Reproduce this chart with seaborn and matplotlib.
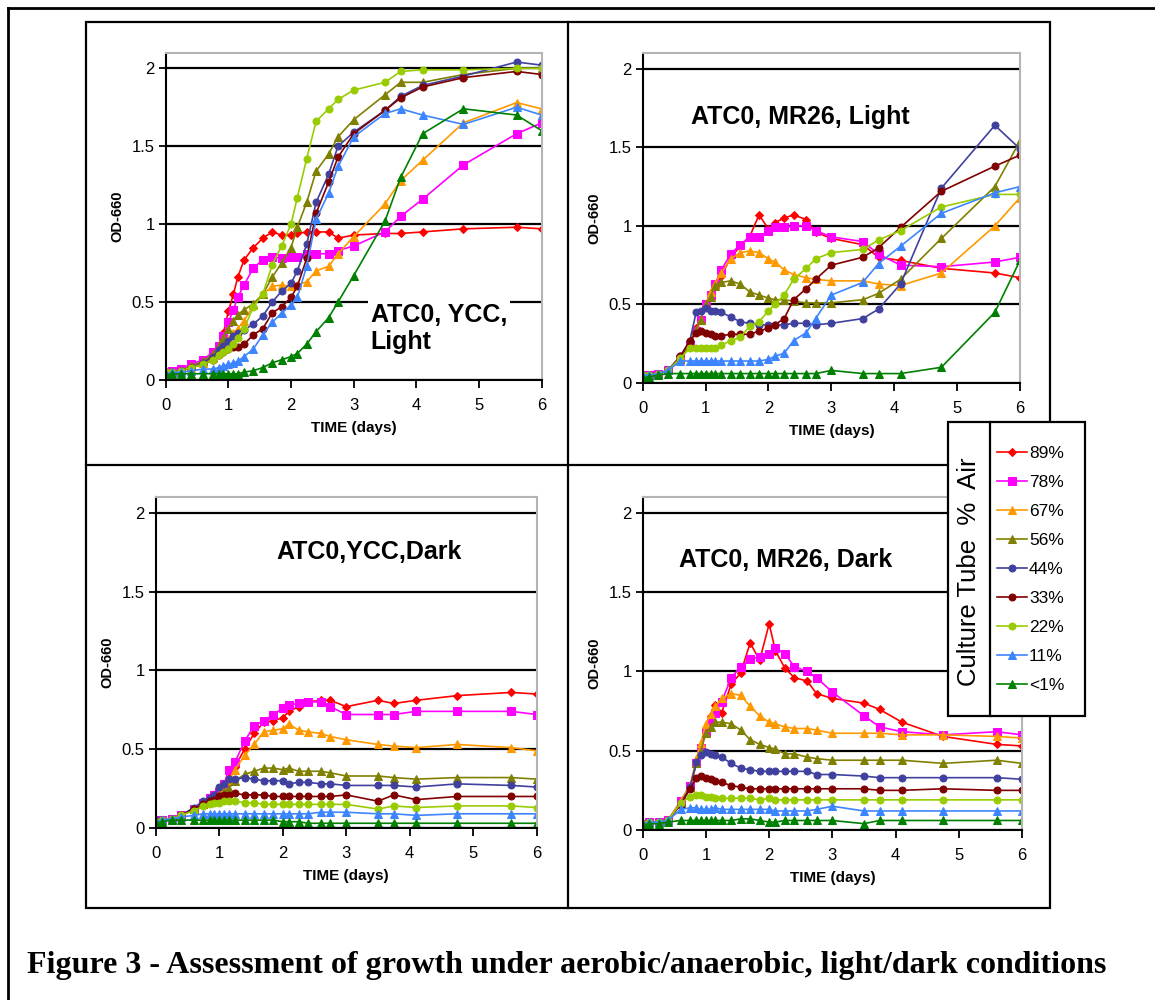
import matplotlib
matplotlib.use("Agg")
import matplotlib.pyplot as plt
import seaborn as sns
from matplotlib.lines import Line2D
from matplotlib.patches import Rectangle

# sampling times (days), shared by all panels
T = [0, 0.1, 0.25, 0.4, 0.6, 0.75, 0.85, 0.92, 1.0, 1.08, 1.15, 1.25, 1.4, 1.55,
     1.7, 1.85, 2.0, 2.1, 2.25, 2.4, 2.6, 2.75, 3.0, 3.5, 3.75, 4.1, 4.75, 5.6, 6.0]

labels = ['89%', '78%', '67%', '56%', '44%', '33%', '22%', '11%', '<1%']
colors = ['#FF0000', '#FF00FF', '#FF9900', '#808000', '#40409F',
          '#800000', '#99CC00', '#3D85FF', '#008000']
markers = ['D', 's', '^', '^', 'o', 'o', 'o', '^', '^']
msizes = [4.5, 5.5, 6, 6, 5, 5, 5, 6, 6]

# ATC0, YCC, Light
yl_89 = [0.05,0.05,0.06,0.08,0.11,0.16,0.22,0.30,0.44,0.55,0.66,0.77,0.85,0.91,0.95,0.93,0.93,0.94,0.95,0.95,0.95,0.91,0.93,0.94,0.94,0.95,0.97,0.98,0.97]
yl_78 = [0.05,0.06,0.07,0.10,0.13,0.18,0.22,0.28,0.37,0.45,0.53,0.61,0.72,0.77,0.79,0.78,0.79,0.79,0.81,0.81,0.81,0.83,0.86,0.95,1.05,1.16,1.38,1.58,1.65]
yl_67 = [0.04,0.05,0.06,0.08,0.11,0.14,0.18,0.22,0.26,0.30,0.33,0.38,0.48,0.55,0.60,0.61,0.60,0.61,0.63,0.70,0.73,0.81,0.92,1.13,1.28,1.41,1.65,1.78,1.74]
yl_56 = [0.05,0.05,0.06,0.09,0.12,0.17,0.22,0.27,0.33,0.38,0.42,0.45,0.49,0.55,0.66,0.75,0.85,0.98,1.14,1.34,1.45,1.56,1.67,1.83,1.91,1.91,1.96,2.0,2.0]
yl_44 = [0.04,0.05,0.06,0.08,0.11,0.15,0.19,0.22,0.25,0.28,0.30,0.32,0.36,0.41,0.50,0.57,0.62,0.70,0.87,1.14,1.32,1.50,1.59,1.73,1.82,1.89,1.95,2.04,2.02]
yl_33 = [0.04,0.05,0.06,0.08,0.10,0.13,0.16,0.18,0.20,0.21,0.21,0.23,0.29,0.33,0.43,0.47,0.53,0.60,0.78,1.07,1.27,1.43,1.58,1.73,1.81,1.88,1.94,1.98,1.96]
yl_22 = [0.05,0.05,0.06,0.08,0.10,0.13,0.16,0.18,0.20,0.23,0.27,0.33,0.47,0.55,0.74,0.86,1.0,1.17,1.42,1.66,1.74,1.80,1.86,1.91,1.98,1.99,1.99,2.0,2.0]
yl_11 = [0.04,0.05,0.05,0.06,0.07,0.07,0.08,0.09,0.10,0.11,0.12,0.15,0.20,0.29,0.37,0.43,0.48,0.53,0.73,1.03,1.20,1.37,1.56,1.71,1.74,1.70,1.64,1.75,1.70]
yl_1 = [0.03,0.04,0.04,0.04,0.04,0.04,0.04,0.04,0.04,0.04,0.04,0.05,0.06,0.08,0.11,0.13,0.15,0.17,0.23,0.31,0.40,0.50,0.67,1.02,1.30,1.58,1.74,1.70,1.60]

# ATC0, MR26, Light
ml_89 = [0.05,0.05,0.06,0.08,0.15,0.25,0.35,0.40,0.50,0.57,0.62,0.68,0.80,0.87,0.93,1.07,0.98,1.02,1.05,1.07,1.04,0.96,0.92,0.88,0.80,0.78,0.73,0.70,0.67]
ml_78 = [0.05,0.05,0.06,0.08,0.15,0.24,0.33,0.40,0.50,0.56,0.63,0.72,0.82,0.88,0.93,0.93,0.97,0.99,0.99,1.0,1.0,0.97,0.93,0.90,0.82,0.75,0.74,0.77,0.80]
ml_67 = [0.05,0.05,0.06,0.08,0.15,0.24,0.33,0.40,0.50,0.58,0.63,0.70,0.79,0.83,0.84,0.83,0.79,0.77,0.72,0.69,0.67,0.66,0.65,0.65,0.63,0.62,0.70,1.0,1.18]
ml_56 = [0.05,0.05,0.06,0.08,0.15,0.25,0.34,0.40,0.50,0.55,0.62,0.64,0.65,0.63,0.58,0.56,0.54,0.53,0.53,0.52,0.51,0.51,0.51,0.53,0.57,0.66,0.92,1.25,1.54]
ml_44 = [0.05,0.05,0.06,0.08,0.17,0.27,0.45,0.46,0.48,0.46,0.46,0.45,0.42,0.39,0.38,0.37,0.37,0.37,0.37,0.38,0.38,0.37,0.38,0.41,0.47,0.63,1.24,1.64,1.49]
ml_33 = [0.05,0.05,0.06,0.08,0.17,0.27,0.32,0.33,0.32,0.31,0.30,0.30,0.31,0.31,0.31,0.33,0.35,0.37,0.41,0.53,0.60,0.66,0.75,0.80,0.86,0.99,1.22,1.38,1.45]
ml_22 = [0.05,0.05,0.06,0.08,0.16,0.22,0.22,0.22,0.22,0.22,0.22,0.24,0.27,0.29,0.36,0.39,0.46,0.50,0.56,0.66,0.73,0.79,0.83,0.85,0.91,0.97,1.12,1.20,1.20]
ml_11 = [0.05,0.05,0.06,0.08,0.14,0.14,0.14,0.14,0.14,0.14,0.14,0.14,0.14,0.14,0.14,0.14,0.15,0.17,0.19,0.27,0.32,0.41,0.56,0.64,0.76,0.87,1.08,1.21,1.25]
ml_1 = [0.03,0.04,0.05,0.06,0.06,0.06,0.06,0.06,0.06,0.06,0.06,0.06,0.06,0.06,0.06,0.06,0.06,0.06,0.06,0.06,0.06,0.06,0.08,0.06,0.06,0.06,0.10,0.45,0.78]

# ATC0, YCC, Dark
yd_89 = [0.05,0.05,0.06,0.08,0.12,0.16,0.19,0.21,0.23,0.27,0.32,0.39,0.50,0.60,0.67,0.68,0.70,0.74,0.77,0.80,0.81,0.81,0.77,0.81,0.79,0.81,0.84,0.86,0.85]
yd_78 = [0.05,0.05,0.06,0.08,0.12,0.16,0.19,0.21,0.23,0.28,0.37,0.42,0.55,0.65,0.68,0.72,0.76,0.78,0.79,0.80,0.80,0.77,0.72,0.72,0.72,0.74,0.74,0.74,0.72]
yd_67 = [0.04,0.05,0.06,0.08,0.12,0.15,0.18,0.20,0.21,0.25,0.30,0.37,0.46,0.53,0.61,0.62,0.63,0.66,0.62,0.61,0.60,0.58,0.56,0.53,0.52,0.51,0.53,0.51,0.49]
yd_56 = [0.05,0.05,0.06,0.08,0.12,0.15,0.18,0.20,0.21,0.23,0.25,0.30,0.34,0.36,0.38,0.38,0.37,0.38,0.36,0.36,0.36,0.35,0.33,0.33,0.32,0.31,0.32,0.32,0.31]
yd_44 = [0.05,0.05,0.06,0.08,0.13,0.17,0.19,0.21,0.26,0.28,0.31,0.31,0.32,0.31,0.30,0.30,0.30,0.28,0.29,0.29,0.28,0.28,0.27,0.27,0.27,0.26,0.28,0.27,0.26]
yd_33 = [0.04,0.05,0.06,0.08,0.12,0.15,0.17,0.18,0.20,0.21,0.21,0.22,0.21,0.21,0.21,0.20,0.20,0.20,0.20,0.20,0.20,0.20,0.21,0.17,0.21,0.18,0.20,0.20,0.20]
yd_22 = [0.04,0.05,0.06,0.08,0.11,0.14,0.15,0.16,0.16,0.17,0.17,0.17,0.16,0.16,0.15,0.15,0.15,0.15,0.15,0.15,0.15,0.15,0.15,0.12,0.14,0.13,0.14,0.14,0.13]
yd_11 = [0.04,0.05,0.06,0.07,0.08,0.09,0.09,0.09,0.09,0.09,0.09,0.09,0.09,0.09,0.09,0.09,0.09,0.09,0.09,0.09,0.10,0.10,0.10,0.09,0.09,0.08,0.09,0.09,0.09]
yd_1 = [0.03,0.04,0.05,0.05,0.05,0.05,0.05,0.05,0.05,0.05,0.05,0.05,0.05,0.05,0.05,0.05,0.04,0.04,0.04,0.03,0.03,0.03,0.03,0.03,0.03,0.03,0.03,0.03,0.03]

# ATC0, MR26, Dark
md_89 = [0.04,0.05,0.05,0.06,0.18,0.28,0.42,0.52,0.62,0.72,0.79,0.74,0.92,0.99,1.18,1.07,1.30,1.13,1.02,0.96,0.94,0.86,0.83,0.80,0.76,0.68,0.59,0.54,0.53]
md_78 = [0.04,0.05,0.05,0.06,0.18,0.28,0.42,0.52,0.62,0.68,0.74,0.81,0.96,1.03,1.08,1.09,1.11,1.15,1.11,1.03,1.00,0.96,0.87,0.72,0.65,0.62,0.60,0.62,0.60]
md_67 = [0.04,0.05,0.05,0.06,0.18,0.28,0.45,0.55,0.67,0.73,0.78,0.83,0.86,0.85,0.78,0.72,0.68,0.67,0.65,0.64,0.64,0.63,0.61,0.61,0.61,0.60,0.60,0.59,0.58]
md_56 = [0.04,0.05,0.05,0.06,0.17,0.27,0.42,0.50,0.61,0.65,0.68,0.68,0.67,0.63,0.57,0.54,0.52,0.51,0.48,0.48,0.46,0.45,0.44,0.44,0.44,0.44,0.42,0.44,0.42]
md_44 = [0.04,0.05,0.05,0.06,0.16,0.27,0.43,0.47,0.49,0.48,0.47,0.46,0.42,0.39,0.38,0.37,0.37,0.37,0.37,0.37,0.37,0.35,0.35,0.34,0.33,0.33,0.33,0.33,0.32]
md_33 = [0.04,0.05,0.05,0.06,0.16,0.26,0.33,0.34,0.33,0.32,0.31,0.30,0.28,0.27,0.26,0.26,0.26,0.26,0.26,0.26,0.26,0.26,0.26,0.26,0.25,0.25,0.26,0.25,0.25]
md_22 = [0.04,0.05,0.05,0.06,0.17,0.21,0.22,0.22,0.21,0.21,0.20,0.20,0.20,0.20,0.20,0.19,0.20,0.19,0.19,0.19,0.19,0.19,0.19,0.19,0.19,0.19,0.19,0.19,0.19]
md_11 = [0.04,0.05,0.05,0.06,0.13,0.14,0.14,0.13,0.13,0.13,0.14,0.13,0.13,0.13,0.13,0.13,0.13,0.12,0.12,0.12,0.12,0.13,0.15,0.12,0.12,0.12,0.12,0.12,0.12]
md_1 = [0.03,0.04,0.04,0.05,0.06,0.06,0.06,0.06,0.06,0.06,0.06,0.06,0.06,0.07,0.07,0.06,0.05,0.05,0.06,0.06,0.06,0.06,0.06,0.04,0.06,0.06,0.06,0.06,0.06]

W, H = 1155, 1000


def fig_box(left, top, right, bottom):
    return [left / W, 1 - bottom / H, (right - left) / W, (bottom - top) / H]


panels = [
    ("ATC0, YCC,\nLight", (165.7, 52.7, 541.7, 380), (4.36, 0.33),
     [yl_89, yl_78, yl_67, yl_56, yl_44, yl_33, yl_22, yl_11, yl_1]),
    ("ATC0, MR26, Light", (642.7, 53, 1020, 383), (2.51, 1.69),
     [ml_89, ml_78, ml_67, ml_56, ml_44, ml_33, ml_22, ml_11, ml_1]),
    ("ATC0,YCC,Dark", (155.7, 497, 536.7, 828), (3.36, 1.75),
     [yd_89, yd_78, yd_67, yd_56, yd_44, yd_33, yd_22, yd_11, yd_1]),
    ("ATC0, MR26, Dark", (642.7, 497, 1022, 830), (2.26, 1.70),
     [md_89, md_78, md_67, md_56, md_44, md_33, md_22, md_11, md_1]),
]

plt.rcParams['font.family'] = ['Liberation Sans', 'DejaVu Sans']

fig = plt.figure(figsize=(W / 100, H / 100), dpi=100)
fig.patch.set_facecolor('white')

handles = None
for title, box, tpos, series in panels:
    ax = fig.add_axes(fig_box(*box))
    for vals, lab, c, m, ms in zip(series, labels, colors, markers, msizes):
        sns.lineplot(x=T, y=vals, ax=ax, color=c, marker=m, markersize=ms,
                     markeredgecolor=c, linewidth=1.2, label=lab, legend=False)
    ax.set_xlim(0, 6)
    ax.set_ylim(0, 2.1)
    ax.set_xticks(range(7))
    ax.set_yticks([0, 0.5, 1, 1.5, 2])
    ax.set_yticklabels(['0', '0.5', '1', '1.5', '2'])
    ax.yaxis.grid(True, color='black', linewidth=1.6)
    ax.xaxis.grid(False)
    ax.set_axisbelow(True)
    for side in ['left', 'bottom']:
        ax.spines[side].set_color('black')
        ax.spines[side].set_linewidth(1.5)
    for side in ['top', 'right']:
        ax.spines[side].set_color('#b4b4b4')
        ax.spines[side].set_linewidth(1.5)
    ax.tick_params(axis='x', direction='out', length=6, width=1.3, labelsize=12, pad=7)
    ax.tick_params(axis='y', direction='out', length=5, width=1.3, labelsize=12, pad=3)
    ax.set_xlabel('TIME (days)', fontsize=11, fontweight='bold', labelpad=6)
    ax.set_ylabel('OD-660', fontsize=10.5, fontweight='bold', labelpad=5)
    ax.text(tpos[0], tpos[1], title, ha='center', va='center', multialignment='left',
            fontsize=18, fontweight='bold', linespacing=1.15, zorder=20,
            bbox=dict(facecolor='white', edgecolor='none', pad=2))
    if handles is None:
        handles, hlabels = ax.get_legend_handles_labels()

# frames around the figure and the panel grid
fig.add_artist(Line2D([8 / W, 1], [1 - 8 / H, 1 - 8 / H], color='black', lw=2))
fig.add_artist(Line2D([8 / W, 8 / W], [1 - 8 / H, 0], color='black', lw=2))
fig.add_artist(Rectangle((86 / W, 1 - 908 / H), (1050 - 86) / W, (908 - 22) / H,
                         transform=fig.transFigure, fill=False, edgecolor='black', lw=1.6))
fig.add_artist(Line2D([568 / W, 568 / W], [1 - 22 / H, 1 - 908 / H], color='black', lw=1.6))
fig.add_artist(Line2D([86 / W, 1050 / W], [1 - 465 / H, 1 - 465 / H], color='black', lw=1.6))

# legend box
leg_box = Rectangle((948 / W, 1 - 716 / H), (1085 - 948) / W, (716 - 422) / H,
                    transform=fig.transFigure, facecolor='white', edgecolor='black',
                    lw=1.6, zorder=10)
fig.add_artist(leg_box)
fig.add_artist(Line2D([990 / W, 990 / W], [1 - 422 / H, 1 - 716 / H], color='black',
                      lw=1.6, zorder=11))
fig.text(969 / W, 1 - 572 / H, 'Culture Tube  %  Air', rotation=90, ha='center',
         va='center', fontsize=18.5, zorder=12)
leg = fig.legend(handles, hlabels, loc='upper left', bbox_to_anchor=(997 / W, 1 - 446 / H),
                 frameon=False, fontsize=12.5, handlelength=1.75, handletextpad=0.1,
                 labelspacing=0.8, borderaxespad=0, borderpad=0)
leg.set_zorder(12)

fig.text(27 / W, 1 - 966 / H,
         'Figure 3 - Assessment of growth under aerobic/anaerobic, light/dark conditions',
         fontfamily='Liberation Serif', fontweight='bold', fontsize=23, va='center')

fig.savefig('out.png', dpi=100)
